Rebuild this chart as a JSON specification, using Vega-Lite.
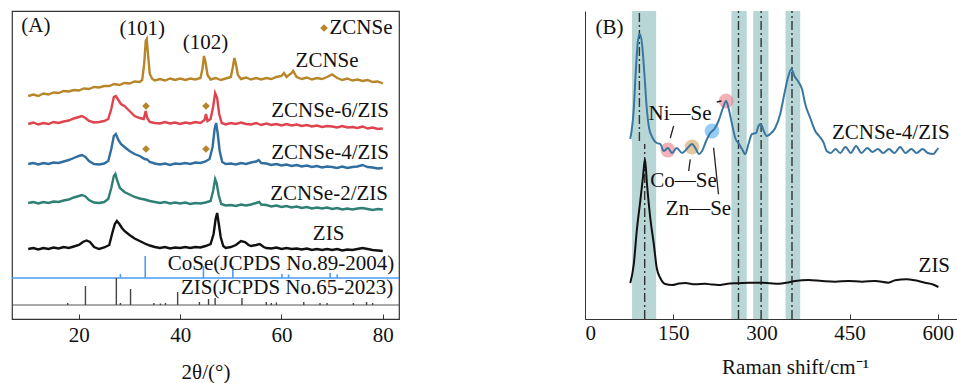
{
  "$schema": "https://vega.github.io/schema/vega-lite/v6.json",
  "background": "white",
  "padding": {"left": 10, "top": 10, "right": 0, "bottom": 0},
  "bounds": "flush",
  "spacing": 186,
  "config": {
    "font": "Liberation Serif",
    "view": {"stroke": "#333", "strokeWidth": 1.2},
    "style": {
      "guide-label": {"font": "Liberation Serif", "fontSize": 21, "fill": "#111"},
      "guide-title": {"font": "Liberation Serif", "fontSize": 21, "fill": "#111", "fontWeight": "normal"}
    },
    "axis": {
      "labelFont": "Liberation Serif", "labelFontSize": 21, "labelColor": "#111",
      "titleFont": "Liberation Serif", "titleFontSize": 21, "titleFontWeight": "normal", "titleColor": "#111",
      "domainColor": "#333", "tickColor": "#333", "grid": false
    },
    "text": {"font": "Liberation Serif", "fontSize": 21, "color": "#111", "baseline": "middle", "align": "center"}
  },
  "datasets": {
    "zcnse": [
      {"x":10,"y":223},{"x":11,"y":224.5},{"x":12,"y":223},{"x":13,"y":225.5},{"x":14,"y":224.5},{"x":15,"y":226.5},{"x":16,"y":226},{"x":17,"y":228},{"x":18,"y":227.5},{"x":19,"y":229},{"x":20,"y":228.5},{"x":21,"y":230.5},{"x":22,"y":230},{"x":23,"y":232},{"x":24,"y":231.5},{"x":25,"y":233},{"x":26,"y":233},{"x":27,"y":235},{"x":28,"y":234},{"x":29,"y":236},{"x":30,"y":235.5},{"x":31,"y":237.5},{"x":32,"y":237},{"x":32.5,"y":239},{"x":32.9,"y":255},{"x":33.2,"y":278},{"x":33.4,"y":280},{"x":33.7,"y":262},{"x":34,"y":245},{"x":34.5,"y":240},{"x":35,"y":238.5},{"x":36,"y":240},{"x":37,"y":238.5},{"x":38,"y":240.5},{"x":39,"y":239},{"x":40,"y":240.5},{"x":41,"y":239},{"x":42,"y":240.5},{"x":43,"y":239.5},{"x":44,"y":241},{"x":44.4,"y":250},{"x":44.7,"y":263},{"x":45,"y":257},{"x":45.4,"y":244},{"x":46,"y":239.5},{"x":47,"y":241},{"x":48,"y":239},{"x":49,"y":240.5},{"x":50,"y":242},{"x":50.4,"y":252},{"x":50.7,"y":261},{"x":51,"y":255},{"x":51.4,"y":244},{"x":52,"y":240},{"x":53,"y":241.5},{"x":54,"y":239.5},{"x":55,"y":241},{"x":56,"y":239.5},{"x":57,"y":241},{"x":58,"y":240},{"x":59,"y":242},{"x":60,"y":243},{"x":60.5,"y":246},{"x":61,"y":242},{"x":62,"y":246},{"x":62.3,"y":248},{"x":63,"y":242},{"x":64,"y":240},{"x":65,"y":241.5},{"x":66,"y":239.5},{"x":67,"y":241},{"x":68,"y":240},{"x":69,"y":242},{"x":70,"y":244.5},{"x":71,"y":241},{"x":72,"y":239},{"x":73,"y":240.5},{"x":74,"y":238.5},{"x":75,"y":239.5},{"x":76,"y":238},{"x":77,"y":239},{"x":78,"y":237},{"x":79,"y":237.5},{"x":80,"y":235.5}
    ],
    "z6": [
      {"x":10,"y":195},{"x":11,"y":196.5},{"x":12,"y":194.5},{"x":13,"y":196},{"x":14,"y":195},{"x":15,"y":197},{"x":16,"y":196},{"x":17,"y":197.5},{"x":18,"y":198.5},{"x":19,"y":200.5},{"x":20,"y":202},{"x":20.6,"y":203},{"x":21.3,"y":201},{"x":22,"y":198},{"x":23,"y":196.5},{"x":24,"y":197},{"x":25,"y":198},{"x":25.8,"y":200},{"x":26.4,"y":210},{"x":26.9,"y":222},{"x":27.3,"y":223},{"x":27.8,"y":219},{"x":28.3,"y":215},{"x":29,"y":213},{"x":30,"y":208},{"x":31,"y":203},{"x":32,"y":201},{"x":32.8,"y":200},{"x":33.2,"y":208},{"x":33.5,"y":201},{"x":34,"y":197},{"x":35,"y":196},{"x":36,"y":195.5},{"x":37,"y":197},{"x":38,"y":195.5},{"x":39,"y":196.5},{"x":40,"y":195},{"x":41,"y":196.5},{"x":42,"y":195.5},{"x":43,"y":197},{"x":44,"y":196},{"x":44.8,"y":199},{"x":45.1,"y":205},{"x":45.4,"y":198},{"x":46,"y":200},{"x":46.5,"y":212},{"x":46.9,"y":226},{"x":47.3,"y":221},{"x":47.7,"y":205},{"x":48.2,"y":196},{"x":49,"y":194.5},{"x":50,"y":196},{"x":51,"y":195},{"x":52,"y":196.5},{"x":53,"y":195},{"x":54,"y":194.5},{"x":55,"y":196},{"x":56,"y":194},{"x":57,"y":195.5},{"x":58,"y":194},{"x":59,"y":195},{"x":60,"y":193.5},{"x":61,"y":195},{"x":62,"y":193.5},{"x":63,"y":194.5},{"x":64,"y":193},{"x":65,"y":194},{"x":66,"y":192.5},{"x":67,"y":193.5},{"x":68,"y":192},{"x":69,"y":193},{"x":70,"y":192.5},{"x":71,"y":191.5},{"x":72,"y":193},{"x":73,"y":191.5},{"x":74,"y":192},{"x":75,"y":191},{"x":76,"y":192.5},{"x":77,"y":190.5},{"x":78,"y":191.5},{"x":79,"y":190},{"x":80,"y":190.5}
    ],
    "z4": [
      {"x":10,"y":155},{"x":11,"y":156},{"x":12,"y":154.5},{"x":13,"y":156},{"x":14,"y":155},{"x":15,"y":156.5},{"x":16,"y":156},{"x":17,"y":157.5},{"x":18,"y":159},{"x":19,"y":161},{"x":20,"y":163},{"x":20.6,"y":164},{"x":21.3,"y":162},{"x":22,"y":158},{"x":23,"y":155},{"x":24,"y":154.5},{"x":25,"y":155.5},{"x":25.8,"y":158},{"x":26.4,"y":170},{"x":26.9,"y":183},{"x":27.3,"y":185},{"x":27.8,"y":179},{"x":28.3,"y":175},{"x":29,"y":172},{"x":30,"y":168},{"x":31,"y":165},{"x":32,"y":163},{"x":33,"y":160},{"x":33.5,"y":159.5},{"x":34,"y":157},{"x":35,"y":155.5},{"x":36,"y":154.5},{"x":37,"y":155.5},{"x":38,"y":154},{"x":39,"y":155.5},{"x":40,"y":155},{"x":41,"y":156},{"x":42,"y":155},{"x":43,"y":156.5},{"x":44,"y":156},{"x":45,"y":157.5},{"x":45.8,"y":160},{"x":46.4,"y":172},{"x":46.8,"y":190},{"x":47.1,"y":196},{"x":47.4,"y":186},{"x":47.8,"y":168},{"x":48.3,"y":157},{"x":49,"y":155},{"x":50,"y":155.5},{"x":51,"y":154.5},{"x":52,"y":156},{"x":53,"y":155},{"x":54,"y":156.5},{"x":55,"y":157.5},{"x":55.5,"y":159},{"x":56,"y":156},{"x":57,"y":155.5},{"x":58,"y":154},{"x":59,"y":155},{"x":60,"y":153.5},{"x":61,"y":154.5},{"x":62,"y":153},{"x":63,"y":154},{"x":64,"y":152.5},{"x":65,"y":153.5},{"x":66,"y":152},{"x":67,"y":153},{"x":68,"y":151.5},{"x":69,"y":152.5},{"x":70,"y":152},{"x":71,"y":151},{"x":72,"y":152.5},{"x":73,"y":151},{"x":74,"y":152},{"x":75,"y":152.5},{"x":76,"y":154},{"x":77,"y":152},{"x":78,"y":151.5},{"x":79,"y":150.5},{"x":80,"y":151}
    ],
    "z2": [
      {"x":10,"y":116},{"x":11,"y":117},{"x":12,"y":115.5},{"x":13,"y":117},{"x":14,"y":116},{"x":15,"y":117.5},{"x":16,"y":117},{"x":17,"y":118.5},{"x":18,"y":119.5},{"x":19,"y":121.5},{"x":20,"y":123},{"x":20.6,"y":124},{"x":21.3,"y":122.5},{"x":22,"y":119},{"x":23,"y":116.5},{"x":24,"y":116},{"x":25,"y":117},{"x":25.8,"y":120},{"x":26.4,"y":131},{"x":26.9,"y":143},{"x":27.2,"y":145},{"x":27.6,"y":138},{"x":28.1,"y":131},{"x":29,"y":127},{"x":30,"y":124.5},{"x":31,"y":122},{"x":32,"y":120.5},{"x":33,"y":119.5},{"x":34,"y":118},{"x":35,"y":117},{"x":36,"y":116},{"x":37,"y":117},{"x":38,"y":115.5},{"x":39,"y":116.5},{"x":40,"y":115.5},{"x":41,"y":116.5},{"x":42,"y":115},{"x":43,"y":116},{"x":44,"y":115.5},{"x":45,"y":116.5},{"x":46,"y":118},{"x":46.5,"y":128},{"x":46.9,"y":140},{"x":47.2,"y":136},{"x":47.6,"y":124},{"x":48.1,"y":115},{"x":49,"y":113.5},{"x":50,"y":114},{"x":51,"y":113},{"x":52,"y":114.5},{"x":53,"y":113.5},{"x":54,"y":114.5},{"x":55,"y":116},{"x":55.6,"y":117},{"x":56,"y":114.5},{"x":57,"y":114},{"x":58,"y":112.5},{"x":59,"y":113.5},{"x":60,"y":112},{"x":61,"y":113},{"x":62,"y":111.5},{"x":63,"y":112.5},{"x":64,"y":111},{"x":65,"y":112},{"x":66,"y":110.5},{"x":67,"y":111.5},{"x":68,"y":110.5},{"x":69,"y":111.5},{"x":70,"y":110},{"x":71,"y":111},{"x":72,"y":109.5},{"x":73,"y":110.5},{"x":74,"y":109.5},{"x":75,"y":110.5},{"x":76,"y":111},{"x":77,"y":110},{"x":78,"y":109},{"x":79,"y":110},{"x":80,"y":109.5}
    ],
    "zis": [
      {"x":10,"y":70},{"x":11,"y":71},{"x":12,"y":69.5},{"x":13,"y":71},{"x":14,"y":70},{"x":15,"y":71.5},{"x":16,"y":70.5},{"x":17,"y":72},{"x":18,"y":71},{"x":19,"y":72.5},{"x":20,"y":74},{"x":20.8,"y":77},{"x":21.5,"y":78.5},{"x":22.2,"y":77},{"x":23,"y":72},{"x":24,"y":70},{"x":25,"y":71.5},{"x":26,"y":74},{"x":26.6,"y":86},{"x":27.1,"y":95},{"x":27.5,"y":98},{"x":28,"y":95},{"x":28.5,"y":91},{"x":29,"y":88},{"x":30,"y":84},{"x":31,"y":80.5},{"x":32,"y":78},{"x":33,"y":75.5},{"x":34,"y":73.5},{"x":35,"y":72},{"x":36,"y":71},{"x":37,"y":72},{"x":38,"y":70.5},{"x":39,"y":71.5},{"x":40,"y":71},{"x":41,"y":72},{"x":42,"y":71},{"x":43,"y":72},{"x":44,"y":71.5},{"x":45,"y":73},{"x":46,"y":75},{"x":46.6,"y":85},{"x":47,"y":100},{"x":47.3,"y":106},{"x":47.6,"y":96},{"x":48,"y":82},{"x":48.5,"y":73},{"x":49,"y":71},{"x":50,"y":72},{"x":51,"y":74},{"x":52,"y":78},{"x":52.8,"y":77},{"x":53.5,"y":74},{"x":54,"y":73},{"x":55,"y":74},{"x":55.7,"y":75},{"x":56.5,"y":72},{"x":57,"y":71},{"x":58,"y":70.5},{"x":59,"y":71.5},{"x":60,"y":70},{"x":61,"y":71},{"x":62,"y":70},{"x":63,"y":70.5},{"x":64,"y":69.5},{"x":65,"y":70.5},{"x":66,"y":69},{"x":67,"y":70},{"x":68,"y":69},{"x":69,"y":70},{"x":70,"y":69},{"x":71,"y":70},{"x":72,"y":68.5},{"x":73,"y":69.5},{"x":74,"y":69},{"x":75,"y":70},{"x":76,"y":71},{"x":77,"y":70},{"x":78,"y":69},{"x":79,"y":68.5},{"x":80,"y":68}
    ],
    "coseRef": [
      {"x":28.2,"y":41,"y2":45},{"x":33.1,"y":41,"y2":63},{"x":44.6,"y":41,"y2":53},{"x":50.4,"y":41,"y2":53},{"x":60.1,"y":41,"y2":45},{"x":61.4,"y":41,"y2":44.5},{"x":69.6,"y":41,"y2":46},{"x":71,"y":41,"y2":44.5}
    ],
    "zisRef": [
      {"x":17.8,"y":14,"y2":16},{"x":21.3,"y":14,"y2":33},{"x":27.4,"y":14,"y2":41},{"x":28.2,"y":14,"y2":16},{"x":30.2,"y":14,"y2":30},{"x":34.8,"y":14,"y2":16},{"x":36.1,"y":14,"y2":15.5},{"x":37.1,"y":14,"y2":16},{"x":39.5,"y":14,"y2":27},{"x":43.8,"y":14,"y2":17},{"x":45.6,"y":14,"y2":20},{"x":46.9,"y":14,"y2":21},{"x":52.2,"y":14,"y2":21},{"x":57,"y":14,"y2":17},{"x":58,"y":14,"y2":16},{"x":59,"y":14,"y2":16.5},{"x":64.4,"y":14,"y2":17},{"x":67.6,"y":14,"y2":16},{"x":69,"y":14,"y2":16},{"x":74.2,"y":14,"y2":16},{"x":76.8,"y":14,"y2":17},{"x":78,"y":14,"y2":16}
    ],
    "xrdLabels": [
      {"x":11.5,"y":293,"t":"(A)"},
      {"x":32.5,"y":290,"t":"(101)"},
      {"x":45.0,"y":276,"t":"(102)"},
      {"x":75.7,"y":291,"t":"ZCNSe"},
      {"x":69.0,"y":258,"t":"ZCNSe"},
      {"x":69.6,"y":208,"t":"ZCNSe-6/ZIS"},
      {"x":69.6,"y":166,"t":"ZCNSe-4/ZIS"},
      {"x":69.4,"y":125,"t":"ZCNSe-2/ZIS"},
      {"x":69.3,"y":85,"t":"ZIS"},
      {"x":59.9,"y":55,"t":"CoSe(JCPDS No.89-2004)"},
      {"x":61.1,"y":31,"t":"ZIS(JCPDS No.65-2023)"}
    ],
    "diamonds": [
      {"x":68.4,"y":291},{"x":33.25,"y":213},{"x":45.1,"y":213},{"x":33.25,"y":170},{"x":45.1,"y":170}
    ],
    "ramanZcnse": [
      {"x":77,"y":180},{"x":82.7,"y":208},{"x":86.7,"y":251},{"x":90,"y":278},{"x":93,"y":285},{"x":97,"y":275},{"x":101,"y":245},{"x":105,"y":211},{"x":109,"y":191},{"x":115,"y":181},{"x":122,"y":176},{"x":128,"y":175},{"x":134,"y":168},{"x":141,"y":171},{"x":148,"y":166},{"x":156,"y":171},{"x":165,"y":166},{"x":173,"y":170},{"x":182,"y":175},{"x":187.6,"y":171},{"x":194,"y":165},{"x":199,"y":168},{"x":206,"y":178},{"x":213,"y":186},{"x":220,"y":190},{"x":227,"y":198},{"x":234,"y":210},{"x":240,"y":218},{"x":244,"y":211},{"x":250,"y":195},{"x":255.5,"y":181},{"x":262,"y":175},{"x":267,"y":170},{"x":272.5,"y":165},{"x":278,"y":175},{"x":284,"y":185},{"x":291,"y":186},{"x":295,"y":193},{"x":299,"y":195},{"x":304,"y":188},{"x":309,"y":183},{"x":315,"y":185},{"x":323.5,"y":191},{"x":332,"y":205},{"x":339,"y":225},{"x":345,"y":241},{"x":351,"y":250},{"x":356,"y":243},{"x":362,"y":238},{"x":369,"y":230},{"x":374.5,"y":215},{"x":383,"y":201},{"x":391.5,"y":188},{"x":398,"y":183},{"x":406,"y":176},{"x":411,"y":168},{"x":418,"y":166},{"x":426,"y":170},{"x":434,"y":166},{"x":443,"y":172},{"x":452,"y":166},{"x":461,"y":173},{"x":470,"y":166},{"x":480,"y":171},{"x":489,"y":167},{"x":498,"y":170},{"x":507,"y":166},{"x":517,"y":170},{"x":526,"y":166},{"x":536,"y":172},{"x":545,"y":166},{"x":555,"y":170},{"x":564,"y":166},{"x":574,"y":170},{"x":583,"y":166},{"x":592,"y":165},{"x":597,"y":168},{"x":601,"y":171}
    ],
    "ramanZis": [
      {"x":77,"y":36},{"x":83,"y":55},{"x":88,"y":88},{"x":94,"y":118},{"x":98.6,"y":142},{"x":102,"y":160},{"x":105.4,"y":135},{"x":111,"y":101},{"x":117,"y":75},{"x":122,"y":51},{"x":128,"y":41},{"x":136.5,"y":35},{"x":148,"y":34},{"x":160,"y":35.5},{"x":170.5,"y":36},{"x":187.5,"y":34.7},{"x":204,"y":35.3},{"x":215,"y":34.5},{"x":227,"y":34},{"x":240,"y":35},{"x":255.5,"y":35.7},{"x":278,"y":36.3},{"x":301,"y":36.3},{"x":315,"y":35.8},{"x":329,"y":35.3},{"x":345,"y":36.5},{"x":357.5,"y":38},{"x":380,"y":39},{"x":403,"y":38},{"x":425.5,"y":37.3},{"x":448,"y":38},{"x":471,"y":37.3},{"x":493.5,"y":38},{"x":516,"y":36.3},{"x":527.5,"y":38.7},{"x":547,"y":39.7},{"x":561,"y":38.7},{"x":578,"y":36.3},{"x":592,"y":34.5},{"x":601,"y":32}
    ],
    "bands": [
      {"x":80,"x2":121},{"x":249,"x2":275},{"x":286,"x2":312},{"x":341,"x2":366}
    ],
    "peakLines": [
      {"x":92.5,"y":178,"y2":308},{"x":101.5,"y":0,"y2":175},{"x":261,"y":0,"y2":308},{"x":299.5,"y":0,"y2":308},{"x":352,"y":0,"y2":308}
    ],
    "bondSpots": [
      {"x":141,"y":169,"k":"Ni—Se"},{"x":182,"y":172,"k":"Co—Se"},{"x":216,"y":188,"k":"Zn—Se"},{"x":240,"y":218,"k":"Ni—Se "}
    ],
    "leaders": [
      {"x":150.7,"x2":145,"y":193,"y2":181},{"x":224,"x2":232,"y":217,"y2":218},{"x":179,"x2":176.3,"y":159.7,"y2":148},{"x":218.7,"x2":227,"y":171.3,"y2":124.7}
    ],
    "ramanLabels": [
      {"x":41.7,"y":291,"t":"(B)"},
      {"x":520,"y":186,"t":"ZCNSe-4/ZIS"},
      {"x":594,"y":53,"t":"ZIS"},
      {"x":161.5,"y":205,"t":"Ni—Se"},
      {"x":167.4,"y":138,"t":"Co—Se"},
      {"x":193,"y":110,"t":"Zn—Se"}
    ]
  },
  "hconcat": [
    {
      "width": 387,
      "height": 308,
      "encoding": {
        "x": {"field": "x", "type": "quantitative", "scale": {"domain": [6.8, 83.2], "nice": false, "zero": false},
              "axis": {"values": [20, 40, 60, 80], "tickSize": -5, "labelPadding": 10, "title": "2θ/(°)", "titlePadding": 16,
                       "labelFont": "Liberation Serif", "titleFont": "Liberation Serif"}},
        "y": {"field": "y", "type": "quantitative", "scale": {"domain": [0, 308], "nice": false}, "axis": null}
      },
      "layer": [
        {"data": {"values": [{"x": 6.8, "x2": 83.2, "y": 41}]}, "mark": {"type": "rule", "color": "#4d9cf0", "strokeWidth": 1.5}, "encoding": {"x2": {"field": "x2"}}},
        {"data": {"values": [{"x": 6.8, "x2": 83.2, "y": 14}]}, "mark": {"type": "rule", "color": "#555", "strokeWidth": 1.2}, "encoding": {"x2": {"field": "x2"}}},
        {"data": {"name": "coseRef"}, "mark": {"type": "rule", "color": "#4d9cf0", "strokeWidth": 1.6}, "encoding": {"y2": {"field": "y2"}}},
        {"data": {"name": "zisRef"}, "mark": {"type": "rule", "color": "#444", "strokeWidth": 1.4}, "encoding": {"y2": {"field": "y2"}}},
        {"data": {"name": "zcnse"}, "mark": {"type": "line", "color": "#b8862a", "strokeWidth": 2.4}},
        {"data": {"name": "z6"}, "mark": {"type": "line", "color": "#df434d", "strokeWidth": 2.4}},
        {"data": {"name": "z4"}, "mark": {"type": "line", "color": "#2f6e9e", "strokeWidth": 2.4}},
        {"data": {"name": "z2"}, "mark": {"type": "line", "color": "#2e7f74", "strokeWidth": 2.4}},
        {"data": {"name": "zis"}, "mark": {"type": "line", "color": "#111", "strokeWidth": 2.4}},
        {"data": {"name": "diamonds"}, "mark": {"type": "point", "shape": "diamond", "filled": true, "size": 60, "color": "#b8862a", "opacity": 1}},
        {"data": {"name": "xrdLabels"}, "mark": {"type": "text"}, "encoding": {"text": {"field": "t"}}}
      ]
    },
    {
      "width": 374,
      "height": 308,
      "view": {"stroke": null},
      "encoding": {
        "x": {"field": "x", "type": "quantitative", "scale": {"domain": [0, 636], "nice": false, "zero": false},
              "axis": {"values": [0, 150, 300, 450, 600], "tickSize": -5, "labelPadding": 8, "title": "Raman shift/cm⁻¹", "titlePadding": 13, "titleX": 210,
                       "labelFont": "Liberation Serif", "titleFont": "Liberation Serif"}}
      },
      "layer": [
        {"data": {"name": "bands"}, "mark": {"type": "rect", "color": "#b9d6d6", "opacity": 1},
         "encoding": {"x2": {"field": "x2"}}},
        {
          "encoding": {
            "y": {"field": "y", "type": "quantitative", "scale": {"domain": [0, 308], "nice": false},
                  "axis": {"labels": false, "ticks": false, "title": null, "domain": true, "minExtent": 0, "maxExtent": 0}}
          },
          "layer": [
            {"data": {"name": "peakLines"}, "mark": {"type": "rule", "color": "#333", "strokeWidth": 1.4, "strokeDash": [9, 3, 2, 3]},
             "encoding": {"y2": {"field": "y2"}}},
            {"data": {"values": [{"a": 1}]}, "mark": {"type": "rule", "color": "#333", "strokeWidth": 1.2},
             "encoding": {"x": {"datum": 0}, "x2": {"datum": 636}, "y": {"datum": 308}}},
            {"data": {"name": "bondSpots"}, "mark": {"type": "circle", "size": 220, "opacity": 0.55},
             "encoding": {"color": {"field": "k", "type": "nominal", "legend": null,
                                    "scale": {"domain": ["Ni—Se", "Co—Se", "Zn—Se", "Ni—Se "], "range": ["#e8707c", "#c89a50", "#3ea4f2", "#e8707c"]}}}},
            {"data": {"name": "ramanZcnse"}, "mark": {"type": "line", "color": "#3a77a0", "strokeWidth": 2, "interpolate": "monotone"}},
            {"data": {"name": "ramanZis"}, "mark": {"type": "line", "color": "#111", "strokeWidth": 2, "interpolate": "monotone"}},
            {"data": {"name": "leaders"}, "mark": {"type": "rule", "color": "#222", "strokeWidth": 1.3},
             "encoding": {"x2": {"field": "x2"}, "y2": {"field": "y2"}}},
            {"data": {"name": "ramanLabels"}, "mark": {"type": "text"}, "encoding": {"text": {"field": "t"}}}
          ]
        }
      ]
    }
  ]
}
